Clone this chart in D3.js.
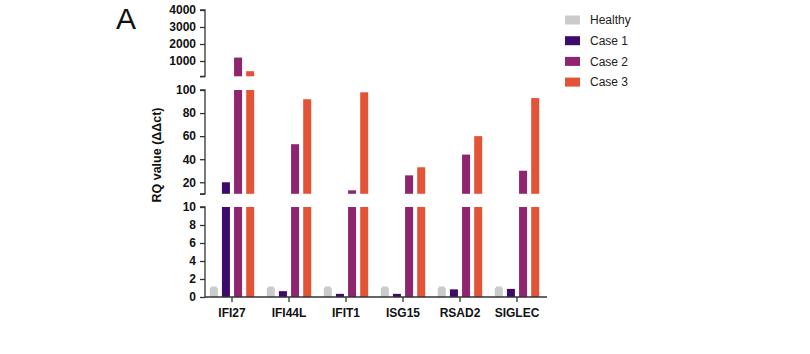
<!DOCTYPE html>
<html>
<head>
<meta charset="utf-8">
<script src="https://cdn.jsdelivr.net/npm/d3@7"></script>
<style>
  body { margin: 0; background: #fff; }
  text { font-family: "Liberation Sans", Arial, sans-serif; }
</style>
</head>
<body>
<svg id="chart" width="810" height="354"></svg>
<script>
const genes = ["IFI27", "IFI44L", "IFIT1", "ISG15", "RSAD2", "SIGLEC"];
const series = ["Healthy", "Case 1", "Case 2", "Case 3"];
const colors = ["#cbcbcb", "#3e0b6d", "#8f256f", "#e35437"];

const healthy = [1, 1, 1, 1, 1, 1];
const case1 = [20, 0.65, 0.35, 0.35, 0.85, 0.9];
const case2 = [1200, 53, 13, 26, 44, 30];
const case3 = [400, 92, 98, 33, 60, 93];

// broken y axis: three pieces
const lowTicks = [0, 2, 4, 6, 8, 10];
const midTicks = [20, 40, 60, 80, 100];
const topTicks = [1000, 2000, 3000, 4000];

const svg = d3.select("#chart");
const axisX = 205;
const baseY = 297;

const pieces = [
  { scale: d3.scaleLinear().domain([0, 10]).range([baseY, 207]), ticks: lowTicks },
  { scale: d3.scaleLinear().domain([10, 100]).range([193.8, 90]), ticks: midTicks },
  { scale: d3.scaleLinear().domain([100, 4000]).range([76.3, 10]), ticks: topTicks }
];

let x = d3.scaleBand().domain(genes).range([203.5, 545.5]).padding(0);
let inner = d3
  .scaleBand()
  .domain(series)
  .range([6.3, 50.7])
  .paddingInner(0.34)
  .paddingOuter(0);

let rows = [];
genes.forEach((g, i) => {
  [healthy, case1, case2, case3].forEach((vals, j) => {
    rows.push({ gene: g, series: series[j], value: vals[i], color: colors[j] });
  });
});

// bars, one piece at a time
pieces.forEach((p) => {
  let [d0, d1] = p.scale.domain();
  let data = rows.filter((d) => d.value > d0);
  svg
    .append("g")
    .selectAll("rect")
    .data(data)
    .join("rect")
    .attr("x", (d) => x(d.gene) + inner(d.series))
    .attr("width", inner.bandwidth())
    .attr("y", (d) => p.scale(Math.min(d.value, d1)))
    .attr("height", (d) => p.scale(d0) - p.scale(Math.min(d.value, d1)))
    .attr("fill", (d) => d.color);
});

// tiny caps on healthy bars
svg
  .append("g")
  .selectAll("line")
  .data(rows.filter((d) => d.series === "Healthy"))
  .join("line")
  .attr("x1", (d) => x(d.gene) + inner(d.series) + 1)
  .attr("x2", (d) => x(d.gene) + inner(d.series) + inner.bandwidth() - 1)
  .attr("y1", (d) => pieces[0].scale(d.value) - 0.8)
  .attr("y2", (d) => pieces[0].scale(d.value) - 0.8)
  .attr("stroke", "#bdbdbd")
  .attr("stroke-width", 1.2);

// y axes
pieces.forEach((p, i) => {
  let tv = p.ticks.slice();
  if (i > 0) tv = [p.scale.domain()[0]].concat(tv);
  let g = svg
    .append("g")
    .attr("transform", `translate(${axisX},0)`)
    .call(
      d3
        .axisLeft(p.scale)
        .tickValues(tv)
        .tickSize(5)
        .tickPadding(4)
        .tickFormat((d) => (i > 0 && d === p.scale.domain()[0] ? "" : d))
    );
  g.select(".domain").attr("stroke", "#333").attr("stroke-width", 1.3).attr("d", `M-5,${p.scale.range()[0]}H0V${p.scale.range()[1]}H-5`);
  if (i === 0) g.select(".domain").attr("d", `M0,${p.scale.range()[0]}V${p.scale.range()[1]}H-5`);
  g.selectAll(".tick line").attr("stroke", "#333").attr("stroke-width", 1.3);
  g.selectAll(".tick text")
    .attr("font-size", 12)
    .attr("font-weight", "bold")
    .attr("fill", "#111");
});

// x axis
let gx = svg
  .append("g")
  .attr("transform", `translate(0,${baseY})`)
  .call(d3.axisBottom(x).tickSize(5).tickSizeOuter(0).tickPadding(6));
gx.select(".domain").attr("stroke", "#333").attr("stroke-width", 1.3).attr("d", `M${axisX},0H547`);
gx.selectAll(".tick line").attr("stroke", "#333").attr("stroke-width", 1.3);
gx.selectAll(".tick text")
  .attr("font-size", 12)
  .attr("font-weight", "bold")
  .attr("fill", "#111");

// y title
svg
  .append("text")
  .attr("transform", "translate(161,155) rotate(-90)")
  .attr("text-anchor", "middle")
  .attr("font-size", 12.5)
  .attr("font-weight", "bold")
  .attr("fill", "#111")
  .text("RQ value (ΔΔct)");

// panel letter
svg
  .append("text")
  .attr("x", 116)
  .attr("y", 29)
  .attr("font-size", 30)
  .attr("fill", "#111")
  .text("A");

// legend
let legend = svg
  .append("g")
  .selectAll("g")
  .data(series)
  .join("g")
  .attr("transform", (d, i) => `translate(565,${20 + i * 20.7})`);
legend
  .append("rect")
  .attr("x", 0)
  .attr("y", -4.5)
  .attr("width", 15)
  .attr("height", 9)
  .attr("fill", (d, i) => colors[i]);
legend
  .append("text")
  .attr("x", 25)
  .attr("dy", "0.35em")
  .attr("font-size", 12)
  .attr("fill", "#222")
  .text((d) => d);
</script>
</body>
</html>
